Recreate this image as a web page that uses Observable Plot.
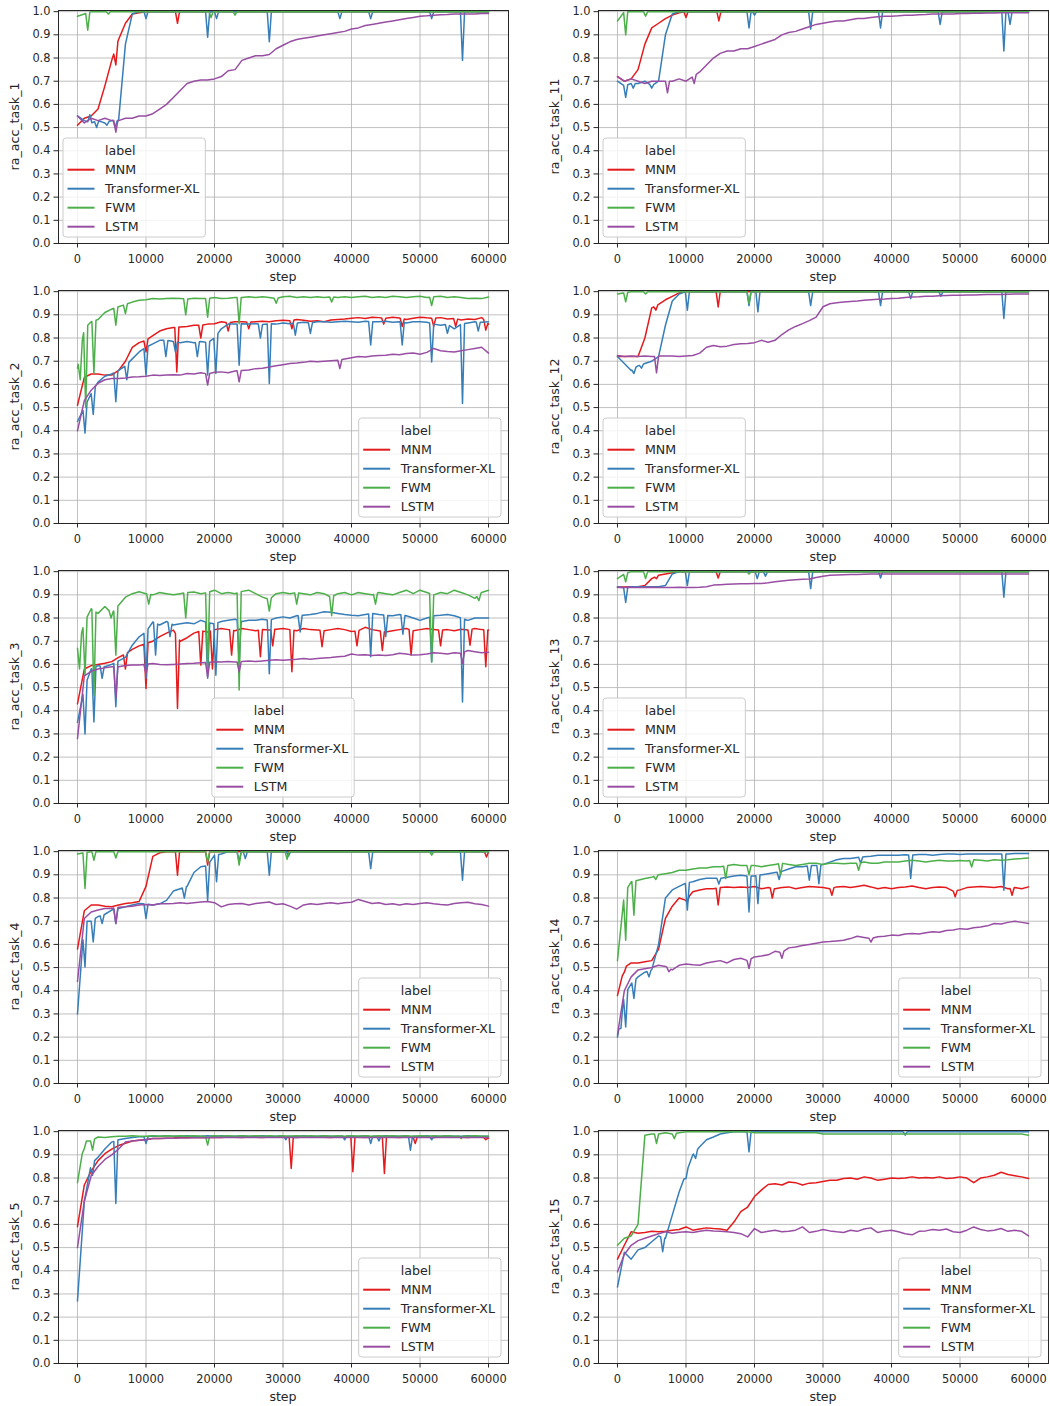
<!DOCTYPE html>
<html><head><meta charset="utf-8">
<script src="https://cdn.jsdelivr.net/npm/d3@7"></script>
<script src="https://cdn.jsdelivr.net/npm/@observablehq/plot@0.6"></script>
<style>
body{margin:0;background:#fff;overflow:hidden}
#wrap{position:relative;width:1050px;height:1406px;background:#fff}
.cell{position:absolute}
.cell svg{background:transparent !important}
</style>
</head><body><div id="wrap"></div>
<script>
// ---------- labels / ticks ----------
const seriesNames = ["MNM", "Transformer-XL", "FWM", "LSTM"];
const seriesColors = ["#e41a1c", "#377eb8", "#4daf4a", "#984ea3"];
const xTicks = [0, 10000, 20000, 30000, 40000, 50000, 60000];
const yTicks = [0, 0.1, 0.2, 0.3, 0.4, 0.5, 0.6, 0.7, 0.8, 0.9, 1.0];
// values sampled every 1000 steps (0..60000), plus narrow spikes [step, value]

// ---------- task 1 ----------
const t1_MNM = [.51,.54,.55,.58,.68,.79,.88,.95,.99,.995,
1,1,1,1,1,1,1,1,1,1, 1,1,1,1,1,1,1,1,1,1, 1,1,1,1,1,1,1,1,1,1, 1,1,1,1,1,1,1,1,1,1, 1,1,1,1,1,1,1,1,1,1, 1];
const t1_MNM_spk = [[5600,.77],[14600,.95]];
const t1_TXL = [.55,.53,.52,.53,.52,.53,.53,.86,.99,1,
1,1,1,1,1,1,1,1,1,1, 1,1,1,1,1,1,1,1,1,1, 1,1,1,1,1,1,1,1,1,1, 1,1,1,1,1,1,1,1,1,1, 1,1,1,1,1,1,1,1,1,1, 1];
const t1_TXL_spk = [[1800,.555],[2800,.50],[4300,.51],[5500,.50],[10000,.97],[19000,.89],[20300,.97],[28000,.87],[38300,.97],[42800,.97],[51700,.97],[56200,.79]];
const t1_FWM = [.98,.99,
1,1,1,1,1,1,1,1, 1,1,1,1,1,1,1,1,1,1, 1,1,1,1,1,1,1,1,1,1, 1,1,1,1,1,1,1,1,1,1, 1,1,1,1,1,1,1,1,1,1, 1,1,1,1,1,1,1,1,1,1, 1];
const t1_FWM_spk = [[1500,.92],[4500,.99],[19500,.975],[23000,.985]];
const t1_LSTM = [.55,.52,.54,.53,.54,.53,.53,.54,.54,.55,
.55,.56,.58,.60,.63,.66,.69,.70,.705,.705,
.71,.72,.745,.75,.79,.80,.81,.81,.815,.84,
.855,.87,.88,.885,.89,.895,.90,.905,.91,.915,
.925,.93,.94,.945,.95,.955,.96,.965,.97,.975,
.98,.982,.985,.987,.988,.99,.99,.99,.99,.992,
.992];
const t1_LSTM_spk = [[5600,.48]];

// ---------- task 2 ----------
const t2_MNM = [.51,.63,.645,.645,.64,.64,.66,.70,.76,.78,
.79,.81,.83,.84,.845,.848,.85,.855,.855,.86,
.862,.87,.865,.87,.87,.868,.87,.872,.87,.875,
.877,.875,.88,.877,.872,.875,.87,.878,.88,.882,
.885,.888,.884,.89,.888,.885,.89,.886,.88,.885,
.89,.887,.885,.888,.882,.885,.878,.882,.88,.888,
.86];
const t2_MNM_spk = [[10000,.74],[14500,.654],[18000,.80],[22000,.83],[25000,.84],[31300,.84],[44700,.86],[47400,.85],[52000,.85],[55200,.85],[59600,.834]];
const t2_TXL = [.44,.50,.56,.61,.635,.645,.66,.68,.71,.74,
.76,.775,.79,.79,.785,.78,.785,.78,.785,.78,
.80,.84,.86,.86,.862,.86,.862,.858,.862,.86,
.865,.862,.865,.868,.865,.87,.87,.868,.87,.872,
.87,.868,.872,.87,.87,.872,.868,.87,.865,.87,
.87,.868,.86,.855,.86,.84,.86,.865,.87,.868,
.87];
const t2_TXL_spk = [[1100,.39],[2300,.47],[5600,.525],[7200,.62],[10000,.64],[12900,.72],[14300,.74],[17500,.72],[19000,.64],[20200,.647],[23600,.683],[26700,.80],[28000,.604],[31800,.812],[34000,.82],[42800,.77],[47400,.77],[51700,.697],[54000,.82],[56200,.518],[58500,.83]];
const t2_FWM = [.67,.84,.87,.88,.91,.925,.935,.945,.955,.963,
.965,.97,.968,.97,.972,.97,.968,.972,.97,.97,
.975,.97,.972,.975,.975,.978,.975,.978,.975,.97,
.978,.98,.975,.978,.975,.978,.975,.978,.975,.978,
.975,.978,.98,.975,.978,.975,.98,.978,.975,.978,
.98,.975,.978,.98,.975,.978,.975,.97,.972,.97,
.977];
const t2_FWM_spk = [[400,.62],[1200,.50],[2400,.647],[5600,.855],[7000,.905],[15800,.90],[19000,.89],[23600,.862],[29000,.95],[37100,.955],[51700,.94]];
const t2_LSTM = [.40,.53,.575,.605,.62,.625,.625,.628,.632,.633,
.635,.64,.638,.64,.642,.64,.647,.645,.65,.645,
.652,.654,.65,.658,.66,.662,.668,.67,.675,.68,
.685,.69,.692,.695,.70,.698,.70,.702,.704,.71,
.715,.72,.718,.722,.725,.726,.73,.728,.733,.735,
.73,.738,.755,.745,.742,.74,.745,.75,.755,.76,
.735];
const t2_LSTM_spk = [[19000,.597],[23600,.611],[38300,.668]];

// ---------- task 3 ----------
const t3_MNM = [.43,.58,.595,.60,.605,.612,.63,.645,.665,.68,
.69,.70,.72,.735,.748,.70,.715,.735,.745,.74,
.75,.755,.75,.745,.755,.75,.745,.75,.748,.752,
.755,.75,.745,.755,.75,.748,.745,.75,.755,.75,
.742,.745,.76,.75,.745,.74,.745,.75,.755,.745,
.75,.755,.75,.748,.75,.745,.752,.748,.755,.75,
.748];
const t3_MNM_spk = [[7000,.58],[10000,.496],[14600,.41],[18000,.597],[19700,.58],[22500,.64],[26700,.633],[28500,.68],[31300,.568],[35700,.676],[40800,.68],[44500,.66],[48700,.64],[53000,.68],[57300,.683],[59600,.59]];
const t3_TXL = [.35,.50,.58,.595,.59,.60,.615,.63,.683,.719,
.74,.783,.77,.785,.77,.775,.78,.775,.79,.78,
.775,.785,.79,.795,.785,.79,.79,.795,.79,.80,
.805,.80,.81,.812,.815,.82,.827,.825,.82,.815,
.812,.81,.815,.82,.815,.812,.81,.815,.81,.80,
.79,.80,.81,.812,.815,.81,.80,.79,.80,.80,
.80];
const t3_TXL_spk = [[1100,.30],[2400,.352],[3600,.54],[5600,.417],[10000,.54],[11400,.64],[13500,.72],[19000,.54],[20200,.553],[23600,.611],[28000,.56],[32500,.74],[42800,.633],[45000,.72],[47500,.73],[51700,.611],[56200,.438]];
const t3_FWM = [.67,.78,.84,.82,.85,.82,.855,.89,.905,.913,
.905,.90,.91,.905,.90,.905,.91,.912,.905,.91,
.92,.905,.91,.905,.915,.92,.905,.89,.88,.905,
.91,.905,.91,.905,.90,.91,.905,.89,.905,.91,
.90,.91,.905,.90,.91,.905,.90,.91,.92,.905,
.92,.91,.90,.91,.905,.92,.91,.90,.885,.91,
.92];
const t3_FWM_spk = [[300,.58],[1100,.553],[2400,.467],[4900,.80],[5600,.64],[10400,.86],[15800,.80],[19000,.58],[23600,.49],[28000,.83],[32000,.86],[37100,.81],[43500,.86],[51700,.61],[58600,.875]];
const t3_LSTM = [.28,.55,.57,.58,.585,.59,.59,.595,.597,.597,
.60,.604,.60,.598,.60,.602,.604,.605,.607,.608,
.611,.61,.612,.61,.612,.615,.612,.615,.618,.62,
.618,.62,.622,.625,.622,.625,.628,.63,.633,.635,
.645,.64,.642,.638,.64,.638,.642,.648,.645,.64,
.642,.645,.65,.648,.645,.65,.648,.66,.655,.65,
.652];
const t3_LSTM_spk = [[5600,.453],[10000,.56],[19000,.546],[23600,.568],[56200,.604]];

// ---------- task 4 ----------
const t4_MNM = [.58,.745,.77,.77,.765,.762,.77,.776,.78,.785,
.85,.98,.995,1,1,1,1,1,1,1,
1,1,1,1,1,1,1,1,1,1, 1,1,1,1,1,1,1,1,1,1, 1,1,1,1,1,1,1,1,1,1, 1,1,1,1,1,1,1,1,1,1, 1];
const t4_MNM_spk = [[14600,.898],[19000,.942],[59700,.977]];
const t4_TXL = [.30,.70,.70,.72,.73,.748,.755,.762,.77,.776,
.775,.77,.775,.79,.83,.84,.85,.91,.935,.94,
.985,.99,1,1,1,1,1,1,1,1,
1,1,1,1,1,1,1,1,1,1, 1,1,1,1,1,1,1,1,1,1, 1,1,1,1,1,1,1,1,1,1, 1];
const t4_TXL_spk = [[1100,.503],[2300,.611],[3600,.69],[5600,.69],[10000,.712],[15600,.80],[19000,.79],[20300,.87],[23600,.956],[24500,.97],[28000,.898],[30800,.98],[42800,.927],[56200,.877]];
const t4_FWM = [.99,.995,
1,1,1,1,1,1,1,1, 1,1,1,1,1,1,1,1,1,1, 1,1,1,1,1,1,1,1,1,1, 1,1,1,1,1,1,1,1,1,1, 1,1,1,1,1,1,1,1,1,1, 1,1,1,1,1,1,1,1,1,1, 1];
const t4_FWM_spk = [[1100,.841],[2400,.963],[5600,.973],[19000,.956],[23600,.942],[30600,.967],[51700,.985]];
const t4_LSTM = [.44,.712,.74,.748,.755,.755,.76,.762,.765,.77,
.772,.77,.775,.775,.776,.78,.776,.78,.783,.785,
.78,.762,.772,.775,.776,.77,.776,.78,.783,.772,
.775,.765,.752,.77,.775,.772,.776,.78,.775,.78,
.782,.794,.785,.776,.78,.772,.775,.77,.775,.772,
.776,.78,.775,.772,.77,.776,.78,.782,.775,.772,
.765];
const t4_LSTM_spk = [[5600,.69]];

// ---------- task 5 ----------
const t5_MNM = [.59,.77,.83,.875,.905,.925,.94,.95,.96,.963,
.965,.97,.97,.972,.973,.975,.975,.975,.976,.975,
.976,.975,.977,.976,.975,.977,.976,.975,.977,.976,
.977,.976,.975,.977,.976,.977,.976,.975,.977,.976,
.977,.976,.975,.977,.976,.977,.976,.975,.977,.976,
.977,.976,.975,.977,.976,.977,.976,.975,.977,.976,
.972];
const t5_MNM_spk = [[31200,.841],[40200,.827],[44800,.82],[49300,.949],[59600,.965]];
const t5_TXL = [.27,.70,.86,.89,.925,.955,.965,.97,.975,.978,
.978,.98,.98,.982,.98,.98,.982,.98,.98,.982,
.98,.982,.98,.98,.982,.98,.98,.982,.98,.98,
.982,.98,.98,.982,.98,.98,.982,.98,.98,.982,
.98,.98,.982,.98,.98,.982,.98,.98,.982,.98,
.98,.982,.98,.98,.982,.98,.98,.982,.98,.98,
.98];
const t5_TXL_spk = [[2200,.812],[5600,.69],[10000,.949],[30400,.965],[39000,.965],[42800,.949],[44000,.96],[48600,.92],[51700,.965]];
const t5_FWM = [.78,.96,.96,.977,.975,.978,.98,.98,.982,.98,
.98,.982,.98,.982,.98,.982,.98,.982,.98,.98,
.982,.98,.982,.98,.982,.98,.982,.98,.982,.98,
.982,.98,.982,.98,.982,.98,.982,.98,.982,.98,
.982,.98,.982,.98,.982,.98,.982,.98,.982,.98,
.982,.98,.982,.98,.982,.98,.982,.98,.982,.98,
.98];
const t5_FWM_spk = [[1000,.927],[2200,.92],[19000,.942],[56000,.97]];
const t5_LSTM = [.50,.70,.81,.85,.88,.90,.925,.955,.96,.963,
.965,.97,.97,.972,.972,.973,.973,.974,.974,.974,
.975,.975,.975,.975,.975,.975,.975,.975,.975,.975,
.975,.975,.975,.975,.975,.975,.975,.975,.975,.975,
.975,.975,.975,.975,.975,.975,.975,.975,.975,.975,
.975,.975,.975,.975,.975,.975,.975,.975,.975,.975,
.975];
const t5_LSTM_spk = [];

// ---------- task 11 ----------
const t11_MNM = [.72,.70,.71,.75,.86,.93,.95,.97,.985,.995,
1,1,1,1,1,1,1,1,1,1, 1,1,1,1,1,1,1,1,1,1, 1,1,1,1,1,1,1,1,1,1, 1,1,1,1,1,1,1,1,1,1, 1,1,1,1,1,1,1,1,1,1, 1];
const t11_MNM_spk = [[10000,.975],[14800,.96]];
const t11_TXL = [.70,.68,.69,.69,.70,.68,.70,.90,.99,1,
1,1,1,1,1,1,1,1,1,1, 1,1,1,1,1,1,1,1,1,1, 1,1,1,1,1,1,1,1,1,1, 1,1,1,1,1,1,1,1,1,1, 1,1,1,1,1,1,1,1,1,1, 1];
const t11_TXL_spk = [[1200,.63],[2300,.67],[5000,.67],[19200,.93],[20000,.985],[28200,.925],[38400,.93],[47100,.945],[56400,.83],[57300,.945]];
const t11_FWM = [.96,
1,1,1,1,1,1,1,1,1, 1,1,1,1,1,1,1,1,1,1, 1,1,1,1,1,1,1,1,1,1, 1,1,1,1,1,1,1,1,1,1, 1,1,1,1,1,1,1,1,1,1, 1,1,1,1,1,1,1,1,1,1, 1];
const t11_FWM_spk = [[1200,.90],[4100,.98]];
const t11_LSTM = [.72,.70,.71,.70,.69,.70,.70,.70,.70,.71,
.70,.72,.74,.77,.80,.82,.83,.83,.84,.84,
.85,.86,.87,.88,.90,.91,.915,.925,.935,.945,
.95,.955,.96,.96,.965,.97,.97,.975,.978,.98,
.98,.982,.985,.985,.987,.988,.99,.99,.99,.99,
.992,.992,.993,.993,.994,.994,.995,.995,.995,.995,
.995];
const t11_LSTM_spk = [[7300,.65],[11200,.69]];

// ---------- task 12 ----------
const t12_MNM = [.72,.72,.72,.72,.80,.93,.945,.965,.98,.995,
1,1,1,1,1,1,1,1,1,1, 1,1,1,1,1,1,1,1,1,1, 1,1,1,1,1,1,1,1,1,1, 1,1,1,1,1,1,1,1,1,1, 1,1,1,1,1,1,1,1,1,1, 1];
const t12_MNM_spk = [[5600,.92],[14700,.934]];
const t12_TXL = [.72,.69,.66,.68,.69,.70,.72,.855,.96,.99,
1,1,1,1,1,1,1,1,1,1, 1,1,1,1,1,1,1,1,1,1, 1,1,1,1,1,1,1,1,1,1, 1,1,1,1,1,1,1,1,1,1, 1,1,1,1,1,1,1,1,1,1, 1];
const t12_TXL_spk = [[2400,.647],[3500,.67],[10200,.92],[19200,.94],[20500,.913],[28200,.94],[38400,.94],[42800,.97],[47200,.98],[56400,.884]];
const t12_FWM = [.99,.995,
1,1,1,1,1,1,1,1, 1,1,1,1,1,1,1,1,1,1, 1,1,1,1,1,1,1,1,1,1, 1,1,1,1,1,1,1,1,1,1, 1,1,1,1,1,1,1,1,1,1, 1,1,1,1,1,1,1,1,1,1, 1];
const t12_FWM_spk = [[1200,.956],[4100,.99],[19200,.95]];
const t12_LSTM = [.725,.72,.722,.72,.722,.72,.722,.722,.722,.72,
.723,.725,.735,.76,.768,.762,.765,.772,.775,.776,
.78,.79,.782,.79,.815,.835,.85,.862,.875,.89,
.935,.948,.952,.955,.958,.96,.963,.965,.967,.968,
.97,.972,.975,.977,.978,.98,.98,.982,.983,.984,
.985,.986,.986,.987,.988,.988,.988,.989,.99,.99,
.99];
const t12_LSTM_spk = [[5700,.65]];

// ---------- task 13 ----------
const t13_MNM = [.934,.934,.935,.935,.94,.97,.985,.99,.995,1,
1,1,1,1,1,1,1,1,1,1, 1,1,1,1,1,1,1,1,1,1, 1,1,1,1,1,1,1,1,1,1, 1,1,1,1,1,1,1,1,1,1, 1,1,1,1,1,1,1,1,1,1, 1];
const t13_MNM_spk = [[5700,.97],[14700,.973]];
const t13_TXL = [.935,.93,.935,.935,.935,.935,.935,.94,.99,1,
1,1,1,1,1,1,1,1,1,1, 1,1,1,1,1,1,1,1,1,1, 1,1,1,1,1,1,1,1,1,1, 1,1,1,1,1,1,1,1,1,1, 1,1,1,1,1,1,1,1,1,1, 1];
const t13_TXL_spk = [[1200,.867],[10200,.94],[20400,.97],[21600,.98],[28200,.927],[38400,.973],[56400,.89]];
const t13_FWM = [.97,.99,
1,1,1,1,1,1,1,1, 1,1,1,1,1,1,1,1,1,1, 1,1,1,1,1,1,1,1,1,1, 1,1,1,1,1,1,1,1,1,1, 1,1,1,1,1,1,1,1,1,1, 1,1,1,1,1,1,1,1,1,1, 1];
const t13_FWM_spk = [[1200,.956],[4100,.97],[19200,.99]];
const t13_LSTM = [.932,.932,.933,.932,.932,.933,.932,.932,.932,.933,
.932,.932,.933,.935,.942,.944,.946,.947,.948,.948,
.949,.949,.952,.956,.96,.963,.965,.967,.968,.975,
.98,.985,.986,.987,.988,.988,.989,.99,.99,.99,
.99,.99,.99,.99,.99,.99,.99,.99,.99,.99,
.99,.99,.99,.99,.99,.99,.99,.99,.99,.99,
.99];
const t13_LSTM_spk = [];

// ---------- task 14 ----------
const t14_MNM = [.38,.50,.52,.52,.525,.53,.58,.712,.765,.80,
.79,.827,.835,.84,.84,.845,.848,.845,.848,.845,
.85,.84,.845,.84,.845,.848,.84,.845,.85,.848,
.845,.84,.848,.85,.845,.85,.855,.848,.84,.845,
.84,.845,.848,.852,.845,.84,.845,.848,.845,.83,
.835,.845,.848,.85,.848,.845,.85,.84,.845,.84,
.848];
const t14_MNM_spk = [[1000,.48],[10200,.783],[14700,.77],[22600,.80],[31300,.812],[49300,.805],[57600,.812]];
const t14_TXL = [.20,.38,.43,.46,.48,.49,.60,.80,.835,.85,
.865,.87,.88,.885,.885,.885,.89,.895,.898,.895,
.895,.90,.905,.91,.915,.925,.935,.935,.94,.94,
.945,.955,.965,.97,.97,.975,.978,.98,.985,.985,
.985,.985,.987,.985,.988,.988,.985,.988,.99,.99,
.988,.99,.99,.99,.99,.99,.99,.99,.992,.992,
.992];
const t14_TXL_spk = [[500,.237],[1200,.244],[2400,.367],[4600,.46],[10200,.748],[14800,.86],[19200,.74],[20500,.776],[23600,.88],[28000,.877],[29400,.862],[35500,.95],[42800,.884],[56400,.834]];
const t14_FWM = [.53,.82,.87,.877,.884,.89,.90,.905,.91,.92,
.92,.925,.93,.93,.935,.935,.94,.945,.94,.94,
.94,.935,.94,.945,.95,.945,.94,.945,.95,.95,
.945,.95,.95,.948,.95,.95,.955,.95,.95,.955,
.955,.955,.96,.963,.96,.955,.96,.963,.96,.96,
.962,.96,.965,.963,.96,.965,.963,.965,.968,.97,
.973];
const t14_FWM_spk = [[1200,.618],[2400,.726],[5600,.88],[15800,.884],[19200,.90],[23800,.90],[35200,.92],[51700,.934]];
const t14_LSTM = [.21,.40,.46,.49,.495,.50,.51,.505,.49,.51,
.515,.512,.51,.52,.525,.53,.52,.535,.54,.53,
.546,.55,.555,.57,.565,.585,.589,.595,.60,.605,
.61,.612,.615,.618,.625,.635,.63,.625,.633,.635,
.64,.638,.645,.647,.645,.65,.655,.652,.66,.662,
.668,.665,.672,.675,.68,.69,.688,.695,.70,.695,
.69];
const t14_LSTM_spk = [[7500,.482],[19200,.496],[24000,.54],[37000,.61]];

// ---------- task 15 ----------
const t15_MNM = [.45,.51,.568,.562,.565,.57,.568,.57,.575,.578,
.589,.575,.58,.585,.582,.58,.575,.61,.655,.675,
.72,.748,.772,.775,.77,.783,.78,.77,.778,.78,
.785,.79,.79,.798,.80,.795,.805,.80,.79,.795,
.80,.798,.80,.805,.80,.802,.80,.805,.798,.80,
.805,.80,.78,.80,.805,.812,.825,.815,.81,.805,
.798];
const t15_MNM_spk = [];
const t15_TXL = [.33,.48,.45,.49,.50,.525,.55,.54,.64,.74,
.82,.90,.935,.965,.977,.99,.995,1,1,1,
1,1,1,1,1,1,1,1,1,1, 1,1,1,1,1,1,1,1,1,1, 1,1,1,1,1,1,1,1,1,1, 1,1,1,1,1,1,1,1,1,1, 1];
const t15_TXL_spk = [[6600,.482],[10000,.798],[11400,.884],[19200,.913],[42000,.985]];
const t15_FWM = [.51,.54,.55,.60,.985,.99,.99,.995,.99,.995,
1,1,1,1,1,1,1,1,1,1,
.995,.995,.995,.995,.995,.995,.995,.995,.995,.995,
.99,.99,.99,.99,.99,.99,.99,.99,.99,.99,
.99,.99,.99,.99,.99,.99,.99,.99,.99,.99,
.99,.99,.99,.99,.99,.99,.99,.99,.99,.99,
.985];
const t15_FWM_spk = [[5700,.949],[8300,.97]];
const t15_LSTM = [.395,.47,.51,.53,.54,.55,.56,.568,.562,.566,
.568,.565,.57,.575,.572,.57,.568,.565,.56,.546,
.582,.565,.57,.575,.568,.57,.575,.589,.565,.57,
.578,.572,.568,.565,.575,.57,.58,.585,.565,.572,
.575,.568,.56,.555,.57,.572,.578,.575,.58,.568,
.565,.575,.589,.578,.572,.575,.582,.57,.575,.57,
.55];
const t15_LSTM_spk = [];

// ---------- panels ----------
const panels = [
  {name:"ra_acc_task_1", col:0, row:0, legend:"ll", s:[[t1_MNM,t1_MNM_spk],[t1_TXL,t1_TXL_spk],[t1_FWM,t1_FWM_spk],[t1_LSTM,t1_LSTM_spk]]},
  {name:"ra_acc_task_2", col:0, row:1, legend:"lr", s:[[t2_MNM,t2_MNM_spk],[t2_TXL,t2_TXL_spk],[t2_FWM,t2_FWM_spk],[t2_LSTM,t2_LSTM_spk]]},
  {name:"ra_acc_task_3", col:0, row:2, legend:"lc", s:[[t3_MNM,t3_MNM_spk],[t3_TXL,t3_TXL_spk],[t3_FWM,t3_FWM_spk],[t3_LSTM,t3_LSTM_spk]]},
  {name:"ra_acc_task_4", col:0, row:3, legend:"lr", s:[[t4_MNM,t4_MNM_spk],[t4_TXL,t4_TXL_spk],[t4_FWM,t4_FWM_spk],[t4_LSTM,t4_LSTM_spk]]},
  {name:"ra_acc_task_5", col:0, row:4, legend:"lr", s:[[t5_MNM,t5_MNM_spk],[t5_TXL,t5_TXL_spk],[t5_FWM,t5_FWM_spk],[t5_LSTM,t5_LSTM_spk]]},
  {name:"ra_acc_task_11", col:1, row:0, legend:"ll", s:[[t11_MNM,t11_MNM_spk],[t11_TXL,t11_TXL_spk],[t11_FWM,t11_FWM_spk],[t11_LSTM,t11_LSTM_spk]]},
  {name:"ra_acc_task_12", col:1, row:1, legend:"ll", s:[[t12_MNM,t12_MNM_spk],[t12_TXL,t12_TXL_spk],[t12_FWM,t12_FWM_spk],[t12_LSTM,t12_LSTM_spk]]},
  {name:"ra_acc_task_13", col:1, row:2, legend:"ll", s:[[t13_MNM,t13_MNM_spk],[t13_TXL,t13_TXL_spk],[t13_FWM,t13_FWM_spk],[t13_LSTM,t13_LSTM_spk]]},
  {name:"ra_acc_task_14", col:1, row:3, legend:"lr", s:[[t14_MNM,t14_MNM_spk],[t14_TXL,t14_TXL_spk],[t14_FWM,t14_FWM_spk],[t14_LSTM,t14_LSTM_spk]]},
  {name:"ra_acc_task_15", col:1, row:4, legend:"lr", s:[[t15_MNM,t15_MNM_spk],[t15_TXL,t15_TXL_spk],[t15_FWM,t15_FWM_spk],[t15_LSTM,t15_LSTM_spk]]}
];

// merge base samples with narrow spikes
function buildSeries(base, spikes, label) {
  const last = (base.length - 1) * 1000;
  const at = s => {
    s = Math.max(0, Math.min(last, s));
    const i = Math.min(base.length - 2, Math.floor(s / 1000));
    const t = s / 1000 - i;
    return base[i] * (1 - t) + base[i + 1] * t;
  };
  const half = 300;
  const pts = base.map((v, i) => ({step: i * 1000, value: v, label}))
    .filter(p => !spikes.some(([s]) => p.step > s - half && p.step < s + half));
  for (const [s, v] of spikes) {
    const a = Math.max(0, s - half), b = Math.min(last, s + half);
    pts.push({step: a, value: at(a), label}, {step: s, value: v, label}, {step: b, value: at(b), label});
  }
  return pts.sort((p, q) => p.step - q.step);
}

const FONT = "DejaVu Sans";
const INK = "#262626";
const wrap = document.getElementById("wrap");

panels.forEach(p => {
  const mL = 58, mT = 10, mB = 37, mR = p.col === 0 ? 17 : 2;
  const W = mL + 450 + mR, H = 280;
  const rows = [];
  p.s.forEach(([base, spk], k) => rows.push(...buildSeries(base, spk, seriesNames[k])));

  const chart = Plot.plot({
    width: W, height: H,
    marginLeft: mL, marginRight: mR, marginTop: mT, marginBottom: mB,
    style: {fontFamily: FONT, fontSize: "11.4px", color: INK, background: "transparent", overflow: "visible"},
    x: {domain: [-2770, 62915]},
    y: {domain: [0, 1.005]},
    color: {domain: seriesNames, range: seriesColors},
    marks: [
      Plot.gridX(xTicks, {stroke: "#b0b0b0", strokeOpacity: 1, strokeWidth: 0.8}),
      Plot.gridY(yTicks, {stroke: "#b0b0b0", strokeOpacity: 1, strokeWidth: 0.8}),
      Plot.line(rows, {x: "step", y: "value", stroke: "label", z: "label", strokeWidth: 1.5, strokeLinejoin: "round"}),
      Plot.frame({stroke: INK, strokeWidth: 1}),
      Plot.axisX(xTicks, {tickFormat: d => String(d), tickSize: 4.5, tickPadding: 6.5, label: null, color: INK}),
      Plot.axisY(yTicks, {tickFormat: d3.format(".1f"), tickSize: 4.5, tickPadding: 3.5, label: null, color: INK})
    ]
  });

  const cell = document.createElement("div");
  cell.className = "cell";
  cell.style.left = (p.col === 0 ? 0 : 540) + "px";
  cell.style.top = (p.row * 280) + "px";
  cell.appendChild(chart);
  wrap.appendChild(cell);

  const svg = d3.select(chart);
  const fx0 = mL, fx1 = mL + 450, fy0 = mT, fy1 = H - mB;
  // axis titles
  svg.append("text").attr("x", (fx0 + fx1) / 2).attr("y", fy1 + 38).attr("text-anchor", "middle")
    .attr("font-family", FONT).attr("font-size", 12.6).attr("fill", INK).text("step");
  svg.append("text").attr("transform", `translate(${fx0 - 43},${(fy0 + fy1) / 2}) rotate(-90)`)
    .attr("text-anchor", "middle").attr("dy", "0.35em")
    .attr("font-family", FONT).attr("font-size", 12.6).attr("fill", INK).text(p.name);

  // legend
  const fs = 12.6;
  const lg = svg.append("g").attr("font-family", FONT).attr("font-size", fs).attr("fill", INK).attr("text-anchor", "start");
  const entries = ["label", ...seriesNames];
  const tmp = entries.map(t => lg.append("text").attr("text-anchor", "start").text(t));
  const maxW = d3.max(tmp, t => t.node().getComputedTextLength());
  tmp.forEach(t => t.remove());
  const w = 42 + maxW + 6, h = 99;
  const x0 = p.legend === "ll" ? fx0 + 5 : p.legend === "lr" ? fx1 - 7 - w : (fx0 + fx1) / 2 - w / 2;
  const y0 = fy1 - 6 - h;
  lg.append("rect").attr("x", x0).attr("y", y0).attr("width", w).attr("height", h).attr("rx", 3)
    .attr("fill", "white").attr("fill-opacity", 0.8).attr("stroke", "#cccccc").attr("stroke-width", 1);
  entries.forEach((t, i) => {
    const cy = y0 + 12.7 + i * 19;
    if (i > 0) lg.append("line").attr("x1", x0 + 4.5).attr("x2", x0 + 31.5).attr("y1", cy).attr("y2", cy)
      .attr("stroke", seriesColors[i - 1]).attr("stroke-width", 2);
    lg.append("text").attr("x", x0 + 42).attr("y", cy).attr("dy", "0.35em").attr("text-anchor", "start").text(t);
  });
});
</script>
</body></html>
